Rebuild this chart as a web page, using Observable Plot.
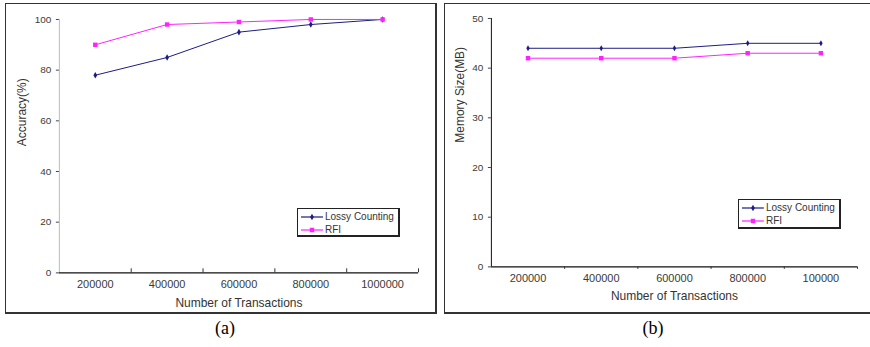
<!DOCTYPE html>
<html>
<head>
<meta charset="utf-8">
<script src="https://cdn.jsdelivr.net/npm/d3@7"></script>
<script src="https://cdn.jsdelivr.net/npm/@observablehq/plot@0.6"></script>
<style>
  html, body { margin: 0; padding: 0; background: #fff; width: 870px; height: 347px; overflow: hidden; }
  .panel { position: absolute; box-sizing: border-box; border: 1px solid #333; border-right-width: 2px; border-bottom-width: 2px; background: #fff; }
  .panel svg { position: absolute; left: 0; top: 0; }
  .legend { position: absolute; box-sizing: border-box; border: 1px solid #222; border-right-width: 2px; border-bottom-width: 2px; background: #fff; font-family: "Liberation Sans", Arial, sans-serif; font-size: 10px; color: #333; padding: 1px 3px; }
  .legend .row { display: flex; align-items: center; height: 13px; white-space: nowrap; }
  .legend svg { position: static; margin-right: 2px; }
  .caption { position: absolute; font-family: "Liberation Serif", "Times New Roman", serif; font-size: 18px; color: #000; transform: translateX(-50%); }
</style>
</head>
<body>
<div id="root"></div>
<script>
// ---- data ----
const categories = [200000, 400000, 600000, 800000, 1000000];
const tickLabelsA = ["200000", "400000", "600000", "800000", "1000000"];
const tickLabelsB = ["200000", "400000", "600000", "800000", "100000"];
const seriesNames = ["Lossy Counting", "RFI"];
const seriesColors = ["#1c1c84", "#ff22ff"];
const seriesSymbols = ["diamond", "square"];
const accuracyLossy = [78, 85, 95, 98, 100];
const accuracyRFI = [90, 98, 99, 100, 100];
const memoryLossy = [44, 44, 44, 45, 45];
const memoryRFI = [42, 42, 42, 43, 43];
const accuracyTicks = [0, 20, 40, 60, 80, 100];
const memoryTicks = [0, 10, 20, 30, 40, 50];

function rows(a, b) {
  const out = [];
  categories.forEach((c, i) => out.push({i, cat: c, series: seriesNames[0], v: a[i]}));
  categories.forEach((c, i) => out.push({i, cat: c, series: seriesNames[1], v: b[i]}));
  return out;
}

function chart(o) {
  const data = rows(o.a, o.b);
  const idx = d3.range(categories.length);
  const bounds = idx.map(i => i + 0.5);
  return Plot.plot({
    width: o.width, height: o.height,
    marginLeft: o.ml, marginRight: o.mr, marginTop: o.mt, marginBottom: o.mb,
    style: {fontFamily: "Liberation Sans, Arial, sans-serif", fontSize: "10px", color: "#3a3a3a", background: "transparent"},
    x: {type: "linear", domain: [-0.5, categories.length - 0.5]},
    y: {domain: o.ydomain},
    color: {domain: seriesNames, range: seriesColors},
    symbol: {domain: seriesNames, range: seriesSymbols},
    marks: [
      Plot.ruleX([-0.5], {stroke: o.yAxisColor, strokeWidth: 1}),
      Plot.ruleY([0], {stroke: "#111", strokeWidth: 1.2}),
      Plot.ruleX(bounds, {y1: 0, y2: o.boundTick, stroke: "#333"}),
      Plot.axisY({ticks: o.yticks, tickSize: 3, tickPadding: 5, label: null, stroke: "#444"}),
      Plot.axisX({ticks: idx, tickSize: 0, tickPadding: o.xpad, tickFormat: i => o.labels[i], label: null, fontSize: 11}),
      Plot.line(data, {x: "i", y: "v", z: "series", stroke: "series", strokeWidth: 1}),
      Plot.dot(data, {filter: d => d.series === seriesNames[0], x: "i", y: "v", symbol: "series", fill: "series", r: o.r0}),
      Plot.dot(data, {filter: d => d.series === seriesNames[1], x: "i", y: "v", symbol: "series", fill: "series", r: o.r1}),
      Plot.text([o.xtitle], {frameAnchor: "bottom", lineAnchor: "middle", dy: o.xtitleDy, fontSize: 12, fill: "#333"}),
      Plot.text([o.ytitle], {frameAnchor: "left", lineAnchor: "middle", rotate: -90, dx: o.ytitleDx, fontSize: 12, fill: "#333"})
    ]
  });
}

function legend(left, top, width, height) {
  const d = document.createElement("div");
  d.className = "legend";
  Object.assign(d.style, {left: left + "px", top: top + "px", width: width + "px", height: height + "px"});
  seriesNames.forEach((name, k) => {
    const r = document.createElement("div");
    r.className = "row";
    const ns = "http://www.w3.org/2000/svg";
    const s = document.createElementNS(ns, "svg");
    s.setAttribute("width", 22); s.setAttribute("height", 8);
    const ln = document.createElementNS(ns, "line");
    ln.setAttribute("x1", 0); ln.setAttribute("x2", 22); ln.setAttribute("y1", 4); ln.setAttribute("y2", 4);
    ln.setAttribute("stroke", seriesColors[k]); ln.setAttribute("stroke-width", 1.2);
    s.appendChild(ln);
    const sym = (seriesSymbols[k] === "square" ? d3.symbolSquare : d3.symbolDiamond);
    const p = document.createElementNS(ns, "path");
    p.setAttribute("d", d3.symbol(sym, seriesSymbols[k] === "square" ? 20 : 12)());
    p.setAttribute("transform", "translate(11,4)");
    p.setAttribute("fill", seriesColors[k]);
    s.appendChild(p);
    r.appendChild(s);
    r.appendChild(document.createTextNode(name));
    d.appendChild(r);
  });
  return d;
}

const root = document.getElementById("root");

// Panel (a)
const pa = document.createElement("div");
pa.className = "panel";
Object.assign(pa.style, {left: "5px", top: "3px", width: "432px", height: "311px"});
pa.appendChild(chart({
  width: 430, height: 310, ml: 53, mr: 17, mt: 15, mb: 41,
  a: accuracyLossy, b: accuracyRFI, ydomain: [0, 100], yticks: accuracyTicks,
  labels: tickLabelsA, xpad: 7, xtitle: "Number of Transactions", xtitleDy: 30,
  ytitle: "Accuracy(%)", ytitleDx: -37, yAxisColor: "#bbb", boundTick: 1.6, r0: 2, r1: 2.5
}));
pa.appendChild(legend(291, 204, 103, 29));
root.appendChild(pa);

// Panel (b)
const pb = document.createElement("div");
pb.className = "panel";
Object.assign(pb.style, {left: "444px", top: "3px", width: "430px", height: "311px"});
pb.appendChild(chart({
  width: 428, height: 310, ml: 46, mr: 15, mt: 14, mb: 47,
  a: memoryLossy, b: memoryRFI, ydomain: [0, 50], yticks: memoryTicks,
  labels: tickLabelsB, xpad: 7, xtitle: "Number of Transactions", xtitleDy: 29,
  ytitle: "Memory Size(MB)", ytitleDx: -31, yAxisColor: "#111", boundTick: -0.5, r0: 1.8, r1: 2.5
}));
pb.appendChild(legend(293, 195, 103, 30));
root.appendChild(pb);

// Captions
[["(a)", 225], ["(b)", 653]].forEach(([t, x]) => {
  const c = document.createElement("div");
  c.className = "caption";
  c.textContent = t;
  Object.assign(c.style, {left: x + "px", top: "318px"});
  root.appendChild(c);
});
</script>
</body>
</html>
